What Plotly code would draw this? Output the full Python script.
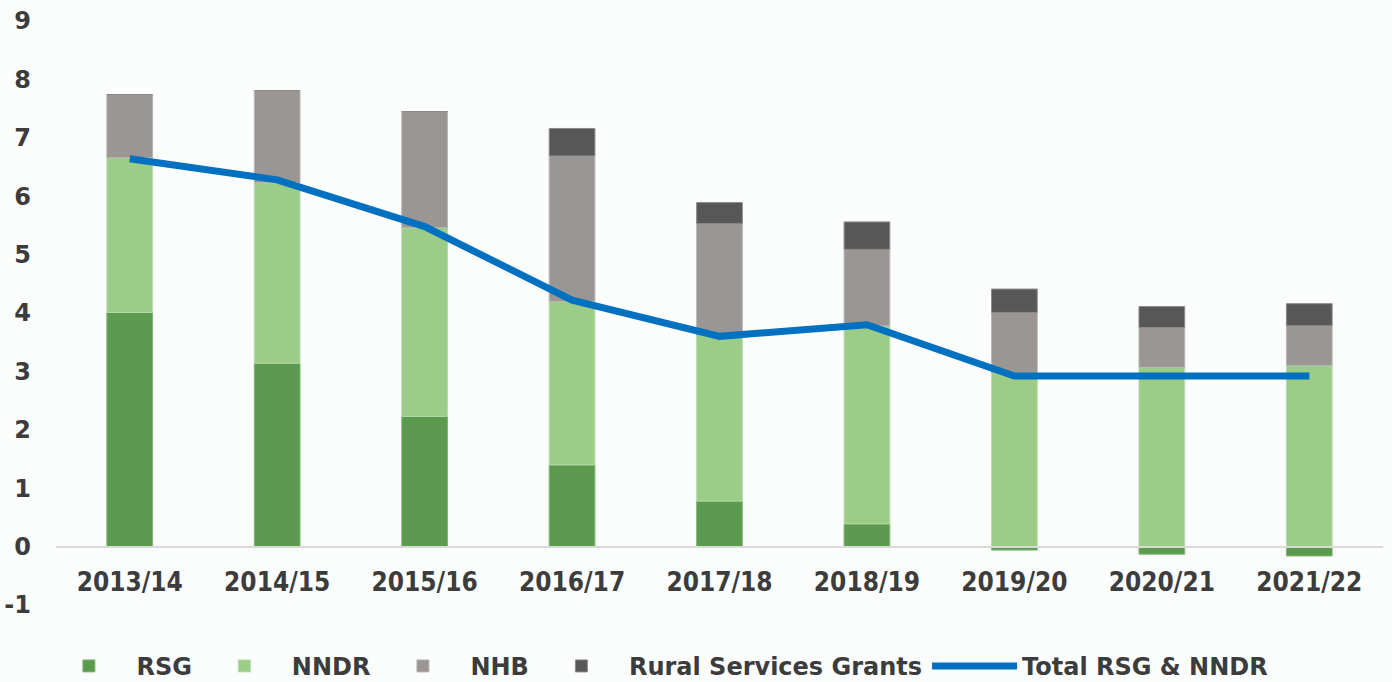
import plotly.graph_objects as go

years = ["2013/14", "2014/15", "2015/16", "2016/17", "2017/18", "2018/19", "2019/20", "2020/21", "2021/22"]
rsg = [4.01, 3.14, 2.23, 1.40, 0.78, 0.39, -0.06, -0.13, -0.16]
nndr = [2.65, 3.09, 3.23, 2.80, 2.84, 3.39, 2.97, 3.07, 3.10]
nhb = [1.08, 1.58, 1.99, 2.49, 1.91, 1.31, 1.04, 0.68, 0.68]
rural = [0.0, 0.0, 0.0, 0.47, 0.36, 0.47, 0.40, 0.36, 0.38]
total_rsg_nndr = [6.64, 6.28, 5.48, 4.22, 3.60, 3.80, 2.92, 2.92, 2.92]
y_ticks = [-1, 0, 1, 2, 3, 4, 5, 6, 7, 8, 9]
y_tick_text = ["-1", "0", "1", "2", "3", "4", "5", "6", "7", "8", "9"]

txt = "#3c3c3c"
fig = go.Figure()
bar_specs = [
    ("RSG", rsg, "#5c9a4f", "#7fb574"),
    ("NNDR", nndr, "#9bcc88", "#b7dcaa"),
    ("NHB", nhb, "#9a9694", "#b8b5b3"),
    ("Rural Services Grants", rural, "#575757", "#8a8a8a"),
]
for name, vals, col, edge in bar_specs:
    fig.add_trace(go.Bar(x=years, y=vals, name=name, marker=dict(color=col, line=dict(color=edge, width=1))))

fig.add_trace(go.Scatter(x=years, y=total_rsg_nndr, name="Total RSG & NNDR", mode="lines",
                         line=dict(color="#0070c0", width=7)))

fig.update_layout(
    width=1392, height=682,
    barmode="relative", bargap=0.69,
    plot_bgcolor="#fbfcfc", paper_bgcolor="#fbfcfc",
    margin=dict(l=56, r=9, t=21, b=77, autoexpand=False),
    showlegend=True,
    legend=dict(orientation="h", x=-0.011, xanchor="left", y=-0.105, yanchor="middle",
                font=dict(family="DejaVu Sans", size=24, color=txt, weight="bold"),
                itemwidth=85, traceorder="normal", bgcolor="rgba(0,0,0,0)"),
    xaxis=dict(anchor="free", position=0.1, showline=True, linecolor="#d9d9d9", linewidth=2,
               showgrid=False, ticks="", ticklabelstandoff=12, automargin=False,
               tickfont=dict(family="Liberation Sans Narrow, DejaVu Sans Condensed, Arial Narrow, sans-serif",
                             size=26, color=txt, weight="bold")),
    yaxis=dict(range=[-1, 9], tickvals=y_ticks, ticktext=y_tick_text, showgrid=False, zeroline=False,
               showline=False, ticklabelstandoff=24, automargin=False,
               tickfont=dict(family="DejaVu Sans", size=24, color=txt, weight="bold")),
)
fig.write_html("out.html", config={"displayModeBar": False},
               post_script="document.body.style.margin='0';document.body.style.background='#fbfcfc';")
